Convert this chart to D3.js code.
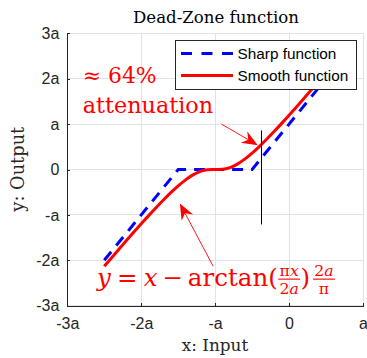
<!DOCTYPE html>
<html><head><meta charset="utf-8">
<script src="https://cdn.jsdelivr.net/npm/d3@7"></script>
<style>body{margin:0;background:#fff} svg{display:block}</style>
</head><body>
<svg id="c" width="367" height="358"></svg>
<script>
// ---- data ----
const xTickValues = [-3, -2, -1, 0, 1];
const xTickLabels = ["-3a", "-2a", "-a", "0", "a"];
const yTickValues = [-3, -2, -1, 0, 1, 2, 3];
const yTickLabels = ["-3a", "-2a", "-a", "0", "a", "2a", "3a"];
const seriesNames = ["Sharp function", "Smooth function"];
const sharpX = [-2.5, -1.5, -0.5, 0.5];
const sharpY = [-2, 0, 0, 2];
const smoothX = [-2.5, -2.4, -2.3, -2.2, -2.1, -2.0, -1.9, -1.8, -1.7, -1.6, -1.5, -1.4, -1.3, -1.2, -1.1, -1.0,
                 -0.9, -0.8, -0.7, -0.6, -0.5, -0.4, -0.3, -0.2, -0.1, 0.0, 0.1, 0.2, 0.3, 0.4, 0.5];
const smoothY = [-2.133, -1.942, -1.753, -1.565, -1.379, -1.196, -1.016, -0.841, -0.672, -0.511, -0.361, -0.228,
                 -0.119, -0.043, -0.006, 0, 0.006, 0.043, 0.119, 0.228, 0.361, 0.511, 0.672, 0.841, 1.016, 1.196,
                 1.379, 1.565, 1.753, 1.942, 2.133];
const markerX = -0.38;
const markerYRange = [-1.21, 0.86];
const attenuationArrow = {from: [-0.914, 1.0], to: [-0.423, 0.535]};
const formulaArrow = {from: [-1.027, -2.13], to: [-1.477, -0.749]};

// ---- layout ----
const svg = d3.select("#c");
const plot = {left: 67.3, right: 363, top: 33.3, bottom: 305.7};
const x = d3.scaleLinear().domain([-3, 1]).range([plot.left, plot.right]);
const y = d3.scaleLinear().domain([-3, 3]).range([plot.bottom, plot.top]);
const axisColor = "#262626";
const sans = "'Liberation Sans', Arial, Helvetica, sans-serif";
const serif = "'DejaVu Serif', serif";
const snap = v => Math.round(v) + 0.5;

function fitWidth(sel, target) {
  const w = sel.node().getComputedTextLength();
  const fs = parseFloat(sel.attr("font-size"));
  sel.attr("font-size", fs * target / w);
  return fs * target / w;
}

svg.append("defs").append("clipPath").attr("id", "clip")
  .append("rect").attr("x", plot.left).attr("y", plot.top)
  .attr("width", plot.right - plot.left).attr("height", plot.bottom - plot.top);

// grid
const grid = svg.append("g").attr("stroke", "#e2e2e2").attr("stroke-width", 1)
  .attr("shape-rendering", "crispEdges");
grid.selectAll(".gx").data(xTickValues).join("line")
  .attr("x1", d => x(d)).attr("x2", d => x(d)).attr("y1", y(-3)).attr("y2", y(3));
grid.selectAll(".gy").data(yTickValues).join("line")
  .attr("y1", d => y(d)).attr("y2", d => y(d)).attr("x1", x(-3)).attr("x2", x(1));

// axes
const xAxis = svg.append("g").attr("transform", `translate(0,${y(-3)})`)
  .call(d3.axisBottom(x).tickValues(xTickValues).tickFormat((d, i) => xTickLabels[i])
    .tickSize(-3).tickSizeOuter(0).tickPadding(12));
const yAxis = svg.append("g").attr("transform", `translate(${x(-3)},0)`)
  .call(d3.axisLeft(y).tickValues(yTickValues).tickFormat((d, i) => yTickLabels[i])
    .tickSize(-3).tickSizeOuter(0).tickPadding(8));
[xAxis, yAxis].forEach(a => {
  a.attr("shape-rendering", "crispEdges");
  a.select(".domain").attr("stroke", axisColor).attr("stroke-width", 1.2);
  a.selectAll(".tick line").attr("stroke", axisColor);
  a.selectAll(".tick text").attr("fill", axisColor).attr("font-family", sans).attr("font-size", 16)
    .attr("shape-rendering", null);
});

// data lines
const line = d3.line().x(d => x(d[0])).y(d => y(d[1]));
const lines = svg.append("g").attr("clip-path", "url(#clip)");
lines.append("path").datum(sharpX.map((v, i) => [v, sharpY[i]]))
  .attr("d", line).attr("fill", "none").attr("stroke", "#0000ff").attr("stroke-width", 3)
  .attr("stroke-dasharray", "11,8");
lines.append("path").datum(smoothX.map((v, i) => [v, smoothY[i]]))
  .attr("d", line.curve(d3.curveMonotoneX)).attr("fill", "none").attr("stroke", "#ff0000").attr("stroke-width", 3);

// marker line
svg.append("line").attr("x1", snap(x(markerX))).attr("x2", snap(x(markerX)))
  .attr("y1", y(markerYRange[0])).attr("y2", y(markerYRange[1]))
  .attr("stroke", "#000").attr("stroke-width", 1);

// arrows
function arrow(a) {
  const x0 = x(a.from[0]), y0 = y(a.from[1]), x1 = x(a.to[0]), y1 = y(a.to[1]);
  const ang = Math.atan2(y1 - y0, x1 - x0);
  const L = 16, W = 6.5, N = 11;
  svg.append("line").attr("x1", x0).attr("y1", y0)
    .attr("x2", x1 - N * Math.cos(ang)).attr("y2", y1 - N * Math.sin(ang))
    .attr("stroke", "#ff0000").attr("stroke-width", 0.9);
  svg.append("path").attr("d", `M0,0 L${-L},${-W} L${-N},0 L${-L},${W} Z`)
    .attr("fill", "#ff0000").attr("transform", `translate(${x1},${y1}) rotate(${ang * 180 / Math.PI})`);
}
arrow(attenuationArrow);
arrow(formulaArrow);

// titles
const title = svg.append("text").attr("x", 216).attr("y", 23).attr("text-anchor", "middle")
  .attr("font-family", serif).attr("font-size", 16).attr("fill", "#000").text("Dead-Zone function");
fitWidth(title, 166);
const xl = svg.append("text").attr("x", 215).attr("y", 351).attr("text-anchor", "middle")
  .attr("font-family", serif).attr("font-size", 16).attr("fill", "#262626").text("x: Input");
fitWidth(xl, 66.5);
const yl = svg.append("text").attr("transform", "translate(23.5,169.2) rotate(-90)").attr("text-anchor", "middle")
  .attr("font-family", serif).attr("font-size", 16).attr("fill", "#262626").text("y: Output");
fitWidth(yl, 85);

// red annotations
const t1 = svg.append("text").attr("x", 82.7).attr("y", 83).attr("font-family", serif)
  .attr("font-size", 22).attr("fill", "#ff0000").text("≈ 64%");
fitWidth(t1, 74);
const t2 = svg.append("text").attr("x", 82.7).attr("y", 113.3).attr("font-family", serif)
  .attr("font-size", 22).attr("fill", "#ff0000").text("attenuation");
fitWidth(t2, 130.5);

// formula
function buildFormula(fs) {
  const g = svg.append("g").attr("transform", "translate(97,285.5)").attr("fill", "#ff0000")
    .attr("font-family", serif);
  let cx = 0;
  const add = (str, italic, gapAfter) => {
    const t = g.append("text").attr("x", cx).attr("y", 0).attr("font-size", fs)
      .attr("font-style", italic ? "italic" : "normal").text(str);
    cx += t.node().getComputedTextLength() + (gapAfter || 0) * fs;
  };
  const frac = (num, den, numItalic, denItalic, pad) => {
    const sf = fs * 0.64;
    const barY = -fs * 0.26;
    const n = g.append("text").attr("y", barY - fs * 0.14).attr("font-size", sf).attr("text-anchor", "middle");
    numItalic.forEach((it, i) => n.append("tspan").attr("font-style", it ? "italic" : "normal").text(num[i]));
    const d = g.append("text").attr("y", barY + fs * 0.14 + sf * 0.72).attr("font-size", sf).attr("text-anchor", "middle");
    denItalic.forEach((it, i) => d.append("tspan").attr("font-style", it ? "italic" : "normal").text(den[i]));
    const w = Math.max(n.node().getComputedTextLength(), d.node().getComputedTextLength()) + fs * 0.1;
    const c = cx + w / 2;
    n.attr("x", c); d.attr("x", c);
    g.append("line").attr("x1", cx).attr("x2", cx + w).attr("y1", barY).attr("y2", barY)
      .attr("stroke", "#ff0000").attr("stroke-width", Math.max(0.8, fs * 0.045));
    cx += w + (pad || 0) * fs;
  };
  add("y", true, 0.25);
  add("=", false, 0.25);
  add("x", true, 0.2);
  add("−", false, 0.2);
  add("arctan", false, 0);
  add("(", false, 0.02);
  frac(["π", "x"], ["2", "a"], [false, true], [false, true], 0.02);
  add(")", false, 0.12);
  frac(["2", "a"], ["π"], [false, true], [false], 0);
  return {g, w: cx};
}
let f = buildFormula(21);
const target = 238;
const fs2 = 21 * target / f.w;
f.g.remove();
buildFormula(fs2);

// legend
const lg = svg.append("g");
lg.append("rect").attr("x", 175.5).attr("y", 40.5).attr("width", 181).attr("height", 49)
  .attr("fill", "#fff").attr("stroke", axisColor).attr("stroke-width", 1);
const legendStyles = [
  {stroke: "#0000ff", dash: "11,9.5"},
  {stroke: "#ff0000", dash: null}
];
const legendY = [53.5, 75.5];
let legendFs = null;
seriesNames.forEach((name, i) => {
  lg.append("line").attr("x1", 181).attr("x2", 233).attr("y1", legendY[i]).attr("y2", legendY[i])
    .attr("stroke", legendStyles[i].stroke).attr("stroke-width", 3)
    .attr("stroke-dasharray", legendStyles[i].dash);
  const t = lg.append("text").attr("x", 237.5).attr("y", legendY[i]).attr("dy", "0.35em")
    .attr("font-family", sans).attr("font-size", 15.5).attr("fill", "#000").text(name);
  if (i === 0) legendFs = fitWidth(t, 99); else t.attr("font-size", legendFs);
});
</script>
</body></html>
